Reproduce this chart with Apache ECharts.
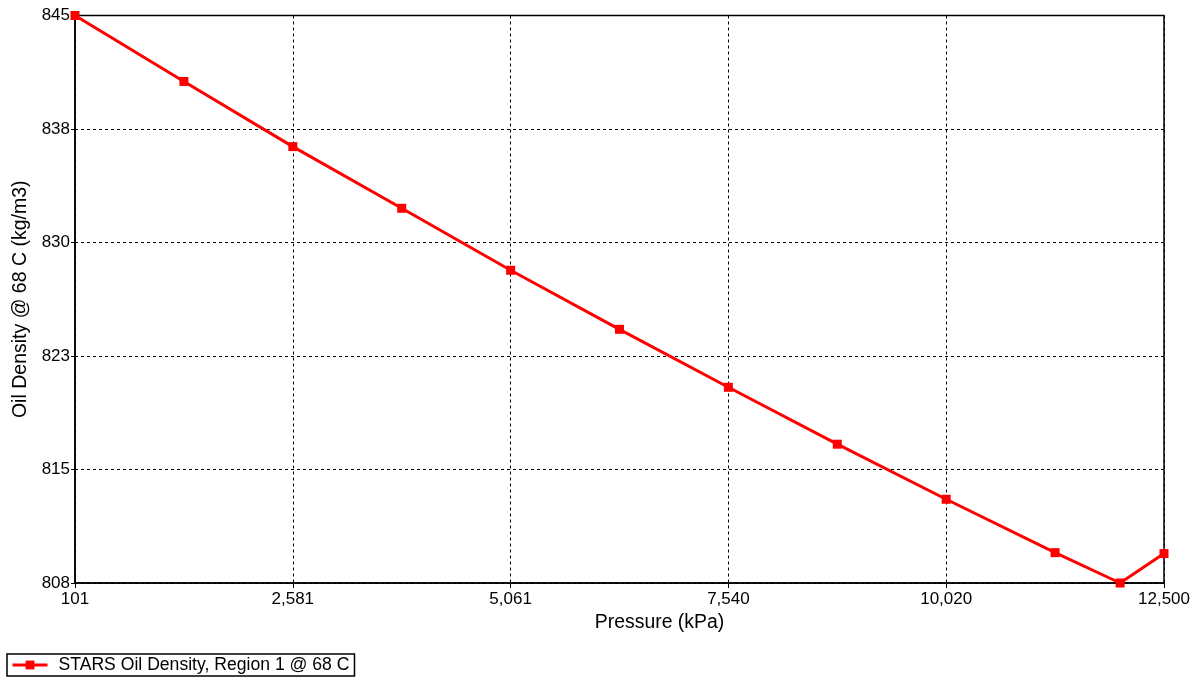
<!DOCTYPE html>
<html>
<head>
<meta charset="utf-8">
<script src="https://cdn.jsdelivr.net/npm/echarts@6/dist/echarts.min.js"></script>
<style>
  html, body { margin: 0; padding: 0; background: #fff; }
  #chart { width: 1202px; height: 681px; }
</style>
</head>
<body>
<div id="chart"></div>
<script>
// Oil density vs pressure at 68 C (STARS, Region 1)
const pressureKPa = [101, 1341, 2581, 3821, 5061, 6300, 7540, 8780, 10020, 11260, 12000, 12500];
const oilDensity  = [845.0, 840.7, 836.45, 832.43, 828.39, 824.54, 820.76, 817.05, 813.46, 809.98, 808.0, 809.92];
const seriesName = 'STARS Oil Density, Region 1 @ 68 C';
const xMin = 101, xMax = 12500;
const yMin = 808, yMax = 845;

const font = 'Liberation Sans, Arial, sans-serif';
const chart = echarts.init(document.getElementById('chart'), null, { renderer: 'canvas' });

const fmtInt = v => Math.round(v).toLocaleString('en-US');

chart.setOption({
  animation: false,
  backgroundColor: '#fff',
  grid: {
    left: 75, right: 38, top: 15.5, bottom: 98,
    show: true, borderColor: '#000', borderWidth: 1.5, backgroundColor: 'transparent'
  },
  legend: {
    left: 7, top: 654,
    orient: 'horizontal',
    borderColor: '#000', borderWidth: 1.5,
    padding: [2, 5, 2, 4],
    itemWidth: 35, itemHeight: 11,
    lineStyle: { width: 3, color: '#ff0000' },
    textStyle: { fontFamily: font, fontSize: 17.6, color: '#000', padding: [0, 0, 0, 6] },
    data: [seriesName]
  },
  xAxis: {
    type: 'value',
    min: xMin, max: xMax, interval: (xMax - xMin) / 5,
    name: 'Pressure (kPa)',
    nameLocation: 'middle', nameGap: 21,
    nameTextStyle: { fontFamily: font, fontSize: 19.4, color: '#000', padding: [0, 0, 0, 80] },
    axisLine: { show: true, lineStyle: { color: '#000', width: 1.5 } },
    axisTick: { show: true, length: 5, lineStyle: { color: '#000' } },
    axisLabel: { fontFamily: font, fontSize: 17, color: '#000', margin: 8, formatter: fmtInt, showMinLabel: true, showMaxLabel: true },
    splitLine: { show: true, lineStyle: { color: '#000', type: [3, 3], width: 1 } }
  },
  yAxis: {
    type: 'value',
    min: yMin, max: yMax, interval: (yMax - yMin) / 5,
    name: 'Oil Density @ 68 C (kg/m3)',
    nameLocation: 'middle', nameGap: 42, nameRotate: 90,
    nameTextStyle: { fontFamily: font, fontSize: 19.5, color: '#000' },
    axisLine: { show: true, lineStyle: { color: '#000', width: 1.5 } },
    axisTick: { show: true, length: 4, lineStyle: { color: '#000' } },
    axisLabel: { fontFamily: font, fontSize: 17, color: '#000', margin: 5, formatter: v => String(Math.round(v)), showMinLabel: true, showMaxLabel: true },
    splitLine: { show: true, lineStyle: { color: '#000', type: [3, 3], width: 1 } }
  },
  series: [{
    name: seriesName,
    type: 'line',
    data: pressureKPa.map((p, i) => [p, oilDensity[i]]),
    symbol: 'rect', symbolSize: 9,
    showAllSymbol: true,
    clip: false,
    lineStyle: { color: '#ff0000', width: 3 },
    itemStyle: { color: '#ff0000' }
  }]
});
</script>
</body>
</html>
